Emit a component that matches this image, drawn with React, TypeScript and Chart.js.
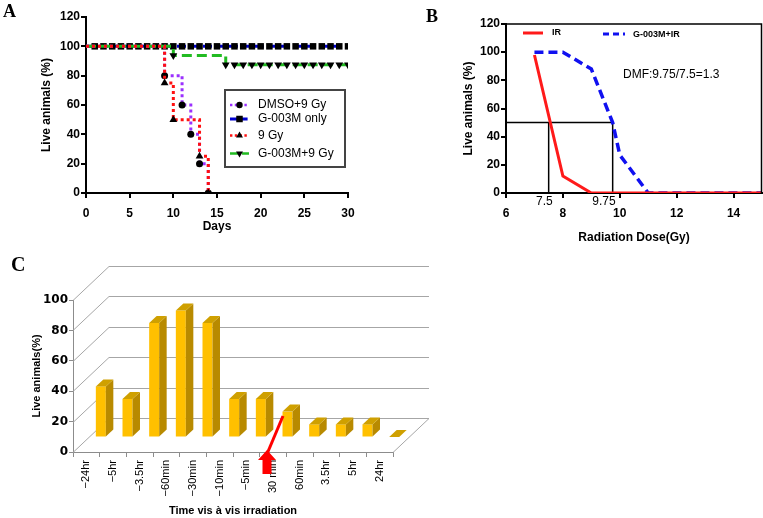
import React, { useEffect, useRef } from 'react';
import { Chart, registerables } from 'chart.js';

Chart.register(...registerables);

const SANS = '"Liberation Sans", Arial, Helvetica, sans-serif';
const SERIF = '"Liberation Serif", "Times New Roman", serif';

// ---------------- Panel A data ----------------
const daysTicks = [0, 5, 10, 15, 20, 25, 30];
const liveTicksA = [0, 20, 40, 60, 80, 100, 120];
const dmsoDays = [0, 9, 11, 12, 13, 14];
const dmsoLive = [100, 80, 60, 40, 20, 0];
const g003mOnlyDays = [0, 1, 2, 3, 4, 5, 6, 7, 8, 9, 10, 11, 12, 13, 14, 15, 16, 17, 18, 19, 20, 21, 22, 23, 24, 25, 26, 27, 28, 29, 30];
const g003mOnlyLive = [100, 100, 100, 100, 100, 100, 100, 100, 100, 100, 100, 100, 100, 100, 100, 100, 100, 100, 100, 100, 100, 100, 100, 100, 100, 100, 100, 100, 100, 100, 100];
const gy9Days = [0, 9, 10, 13, 14];
const gy9Live = [100, 75, 50, 25, 0];
const g003m9GyDays = [0, 10, 16, 17, 18, 19, 20, 21, 22, 23, 24, 25, 26, 27, 28, 29, 30];
const g003m9GyLive = [100, 93.75, 87.5, 87.5, 87.5, 87.5, 87.5, 87.5, 87.5, 87.5, 87.5, 87.5, 87.5, 87.5, 87.5, 87.5, 87.5];
const legendNamesA = ['DMSO+9 Gy', 'G-003M only', '9 Gy', 'G-003M+9 Gy'];

// ---------------- Panel B data ----------------
const doseTicks = [6, 8, 10, 12, 14];
const liveTicksB = [0, 20, 40, 60, 80, 100, 120];
const irDose = [7, 8, 9, 15];
const irLive = [98, 12, 0, 0];
const g003mIrDose = [7, 8, 9, 9.75, 10, 11, 15];
const g003mIrLive = [100, 100, 88, 50, 27, 0, 0];
const ld50Level = 50;
const ld50DoseIr = 7.5;
const ld50DoseG003m = 9.75;
const dmfText = 'DMF:9.75/7.5=1.3';
const legendNamesB = ['IR', 'G-003M+IR'];

// ---------------- Panel C data ----------------
const timeLabels = ['−24hr', '−5hr', '−3.5hr', '−60min', '−30min', '−10min', '−5min', '30 min', '60min', '3.5hr', '5hr', '24hr'];
const liveValuesC = [33.3, 25, 75, 83.3, 75, 25, 25, 16.7, 8.3, 8.3, 8.3, 0];
const liveTicksC = [0, 20, 40, 60, 80, 100];
const irradiationIndex = 7;

const pts = (xs: number[], ys: number[]) => xs.map((x, i) => ({ x, y: ys[i] }));

function drawMarker(ctx: CanvasRenderingContext2D, style: string, x: number, y: number, r: number, rot: number) {
  ctx.beginPath();
  if (style === 'circle') {
    ctx.arc(x, y, r, 0, Math.PI * 2);
  } else if (style === 'rect') {
    const s = r * Math.SQRT1_2;
    ctx.rect(x - s, y - s, 2 * s, 2 * s);
  } else {
    const d = rot === 180 ? -1 : 1;
    ctx.moveTo(x, y - d * r);
    ctx.lineTo(x - r * 0.866, y + d * r * 0.5);
    ctx.lineTo(x + r * 0.866, y + d * r * 0.5);
  }
  ctx.closePath();
  ctx.fill();
}

const fixTicks = (vals: number[]) => (scale: any) => {
  scale.ticks = vals.map((v) => ({ value: v }));
};

function makeChartA(canvas: HTMLCanvasElement) {
  const firstHidden = (r: number) => (c: any) => (c.dataIndex === 0 ? 0 : r);
  const base = {
    stepped: 'before' as const,
    borderWidth: 3,
    pointBackgroundColor: '#000',
    pointBorderColor: '#000',
    pointBorderWidth: 0,
    fill: false,
  };
  const dsDmso = { ...base, label: legendNamesA[0], data: pts(dmsoDays, dmsoLive), borderColor: '#9B30FF', borderDash: [3, 3], pointStyle: 'circle', pointRadius: firstHidden(3.5), rotation: 0 };
  const dsOnly = { ...base, label: legendNamesA[1], data: pts(g003mOnlyDays, g003mOnlyLive), borderColor: '#0000D0', borderDash: [9, 4], pointStyle: 'rect', pointRadius: firstHidden(4.6), rotation: 0 };
  const dsGy = { ...base, label: legendNamesA[2], data: pts(gy9Days, gy9Live), borderColor: '#FF1010', borderDash: [3, 3], pointStyle: 'triangle', pointRadius: firstHidden(4.5), rotation: 0 };
  const dsCombo = { ...base, label: legendNamesA[3], data: pts(g003m9GyDays, g003m9GyLive), borderColor: '#22BB22', borderDash: [10, 5], pointStyle: 'triangle', pointRadius: firstHidden(4.5), rotation: 180 };

  const legendPlugin = {
    id: 'legendA',
    afterDraw(chart: any) {
      const { ctx } = chart;
      ctx.save();
      ctx.strokeStyle = '#444';
      ctx.lineWidth = 2;
      ctx.strokeRect(225, 90, 120, 77);
      const ys = [105, 119, 135.5, 153.5];
      const order = [dsDmso, dsOnly, dsGy, dsCombo];
      order.forEach((ds: any, i: number) => {
        const y = ys[i];
        ctx.strokeStyle = ds.borderColor;
        ctx.lineWidth = ds === dsOnly ? 3 : 2.5;
        ctx.setLineDash(ds.borderDash.map((v: number) => v * 0.8));
        ctx.beginPath();
        ctx.moveTo(230, y);
        ctx.lineTo(249, y);
        ctx.stroke();
        ctx.setLineDash([]);
        ctx.fillStyle = '#000';
        drawMarker(ctx, ds.pointStyle, 239.5, y, ds.pointStyle === 'rect' ? 4.6 : ds.pointStyle === 'circle' ? 3.2 : 4, ds.rotation);
        ctx.fillStyle = '#000';
        ctx.font = `12px ${SANS}`;
        ctx.textBaseline = 'middle';
        ctx.textAlign = 'left';
        ctx.fillText(ds.label, 258, y);
      });
      ctx.restore();
    },
  };

  return new Chart(canvas, {
    type: 'line',
    data: { datasets: [dsGy, dsDmso, dsCombo, dsOnly] as any },
    options: {
      animation: false,
      responsive: false,
      layout: { padding: { left: 0, top: 17, right: 32, bottom: 0 } },
      plugins: { legend: { display: false }, tooltip: { enabled: false } },
      scales: {
        x: {
          type: 'linear',
          min: 0,
          max: 30,
          afterBuildTicks: fixTicks(daysTicks),
          afterFit: (s: any) => { s.height = 47; },
          ticks: { font: { family: SANS, size: 12, weight: 'bold' }, color: '#000', padding: 8 },
          grid: { drawOnChartArea: false, drawTicks: true, tickLength: 5, color: '#000', lineWidth: 2 },
          border: { display: true, color: '#000', width: 2 },
          title: { display: true, text: 'Days', font: { family: SANS, size: 12, weight: 'bold' }, color: '#000', padding: { top: 0, bottom: 6 } },
        },
        y: {
          type: 'linear',
          min: 0,
          max: 120,
          afterBuildTicks: fixTicks(liveTicksA),
          afterFit: (s: any) => { s.width = 86; },
          ticks: { font: { family: SANS, size: 12, weight: 'bold' }, color: '#000', padding: 1 },
          grid: { drawOnChartArea: false, drawTicks: true, tickLength: 5, color: '#000', lineWidth: 2 },
          border: { display: true, color: '#000', width: 2 },
          title: { display: true, text: 'Live animals (%)', font: { family: SANS, size: 12, weight: 'bold' }, color: '#000', padding: { top: 39, bottom: 0 } },
        },
      },
    } as any,
    plugins: [legendPlugin],
  });
}

function makeChartB(canvas: HTMLCanvasElement) {
  const line = { pointRadius: 0, tension: 0, fill: false };
  const dsIr = { ...line, label: legendNamesB[0], data: pts(irDose, irLive), borderColor: '#FF1A1A', borderWidth: 3 };
  const dsG = { ...line, label: legendNamesB[1], data: pts(g003mIrDose, g003mIrLive), borderColor: '#1010F0', borderWidth: 3.5, borderDash: [9, 5] };
  const ref = { ...line, borderColor: '#000', borderWidth: 1.5 };
  const dsH = { ...ref, label: 'LD50', data: [{ x: 6, y: ld50Level }, { x: ld50DoseG003m, y: ld50Level }] };
  const dsV1 = { ...ref, label: 'LD50 IR', data: [{ x: ld50DoseIr, y: 0 }, { x: ld50DoseIr, y: ld50Level }] };
  const dsV2 = { ...ref, label: 'LD50 G-003M+IR', data: [{ x: ld50DoseG003m, y: 0 }, { x: ld50DoseG003m, y: ld50Level }] };

  const extras = {
    id: 'extrasB',
    afterDraw(chart: any) {
      const { ctx, chartArea: ca, scales } = chart;
      ctx.save();
      ctx.strokeStyle = '#000';
      ctx.lineWidth = 1.5;
      ctx.beginPath();
      ctx.moveTo(ca.left, ca.top);
      ctx.lineTo(ca.right - 0.5, ca.top);
      ctx.lineTo(ca.right - 0.5, ca.bottom);
      ctx.stroke();
      // legend
      ctx.lineWidth = 3;
      ctx.strokeStyle = dsIr.borderColor;
      ctx.beginPath(); ctx.moveTo(103, 33); ctx.lineTo(123, 33); ctx.stroke();
      ctx.strokeStyle = dsG.borderColor;
      ctx.setLineDash([6, 4]);
      ctx.beginPath(); ctx.moveTo(183, 34); ctx.lineTo(205, 34); ctx.stroke();
      ctx.setLineDash([]);
      ctx.fillStyle = '#000';
      ctx.font = `bold 9px ${SANS}`;
      ctx.textBaseline = 'middle';
      ctx.textAlign = 'left';
      ctx.fillText(dsIr.label, 132, 33);
      ctx.fillText(dsG.label, 213, 35);
      // DMF
      ctx.font = `12px ${SANS}`;
      ctx.fillText(dmfText, 203, 75);
      // LD50 labels
      ctx.textAlign = 'right';
      ctx.font = `12px ${SANS}`;
      const ly = ca.bottom + 9;
      ctx.fillText(String(ld50DoseIr), scales.x.getPixelForValue(ld50DoseIr) + 4, ly);
      ctx.fillText(String(ld50DoseG003m), scales.x.getPixelForValue(ld50DoseG003m) + 3, ly);
      ctx.restore();
    },
  };

  return new Chart(canvas, {
    type: 'line',
    data: { datasets: [dsIr, dsG, dsH, dsV1, dsV2] as any },
    options: {
      animation: false,
      responsive: false,
      layout: { padding: { left: 0, top: 24, right: 1, bottom: 0 } },
      plugins: { legend: { display: false }, tooltip: { enabled: false } },
      scales: {
        x: {
          type: 'linear',
          min: 6,
          max: 15,
          afterBuildTicks: fixTicks(doseTicks),
          afterFit: (s: any) => { s.height = 57; },
          ticks: { font: { family: SANS, size: 12, weight: 'bold' }, color: '#000', padding: 8 },
          grid: { drawOnChartArea: false, drawTicks: true, tickLength: 5, color: '#000', lineWidth: 2 },
          border: { display: true, color: '#000', width: 2 },
          title: { display: true, text: 'Radiation Dose(Gy)', font: { family: SANS, size: 12, weight: 'bold' }, color: '#000', padding: { top: 0, bottom: 5 } },
        },
        y: {
          type: 'linear',
          min: 0,
          max: 120,
          afterBuildTicks: fixTicks(liveTicksB),
          afterFit: (s: any) => { s.width = 86; },
          ticks: { font: { family: SANS, size: 12, weight: 'bold' }, color: '#000', padding: 1 },
          grid: { drawOnChartArea: false, drawTicks: true, tickLength: 5, color: '#000', lineWidth: 2 },
          border: { display: true, color: '#000', width: 2 },
          title: { display: true, text: 'Live animals (%)', font: { family: SANS, size: 12, weight: 'bold' }, color: '#000', padding: { top: 41, bottom: 0 } },
        },
      },
    } as any,
    plugins: [extras],
  });
}

function makeChartC(canvas: HTMLCanvasElement) {
  const DX = 36, DY = -34; // chart depth
  const OX = 14.5, OY = -15; // bar row position in depth
  const BX = 7.5, BY = -7; // bar depth
  const GRID = '#A6A6A6';
  const SIDE = '#B88A00';
  const TOP = '#CFA000';

  const threeD = {
    id: 'threeD',
    beforeDatasetsDraw(chart: any) {
      const { ctx, chartArea: ca, scales } = chart;
      const y = scales.y;
      ctx.save();
      ctx.strokeStyle = GRID;
      ctx.lineWidth = 1;
      ctx.beginPath();
      liveTicksC.forEach((v) => {
        const py = Math.round(y.getPixelForValue(v)) + 0.5;
        ctx.moveTo(ca.left, py);
        ctx.lineTo(ca.left + DX, py + DY);
        ctx.lineTo(ca.right + DX, py + DY);
      });
      ctx.moveTo(ca.right, Math.round(ca.bottom) + 0.5);
      ctx.lineTo(ca.right + DX, Math.round(ca.bottom) + 0.5 + DY);
      ctx.stroke();
      ctx.restore();
      ctx.save();
      ctx.translate(OX, OY);
    },
    afterDatasetsDraw(chart: any) {
      const { ctx } = chart;
      const meta = chart.getDatasetMeta(0);
      meta.data.forEach((el: any) => {
        const { x, y, base, width } = el.getProps(['x', 'y', 'base', 'width'], true);
        const l = x - width / 2;
        const r = x + width / 2;
        ctx.fillStyle = SIDE;
        ctx.beginPath();
        ctx.moveTo(r, y);
        ctx.lineTo(r + BX, y + BY);
        ctx.lineTo(r + BX, base + BY);
        ctx.lineTo(r, base);
        ctx.closePath();
        ctx.fill();
        ctx.fillStyle = TOP;
        ctx.beginPath();
        ctx.moveTo(l, y);
        ctx.lineTo(l + BX, y + BY);
        ctx.lineTo(r + BX, y + BY);
        ctx.lineTo(r, y);
        ctx.closePath();
        ctx.fill();
      });
      ctx.restore();
    },
    afterDraw(chart: any) {
      const { ctx, chartArea: ca, scales } = chart;
      const ax = scales.x.getPixelForValue(irradiationIndex) - 6;
      const b = ca.bottom;
      ctx.save();
      ctx.strokeStyle = '#FF0000';
      ctx.fillStyle = '#FF0000';
      ctx.lineWidth = 3;
      ctx.beginPath();
      ctx.moveTo(ax, b + 2);
      ctx.lineTo(ax + 16, b - 36);
      ctx.stroke();
      ctx.beginPath();
      ctx.moveTo(ax, b - 2);
      ctx.lineTo(ax - 9, b + 8);
      ctx.lineTo(ax - 4.5, b + 8);
      ctx.lineTo(ax - 4.5, b + 22);
      ctx.lineTo(ax + 4.5, b + 22);
      ctx.lineTo(ax + 4.5, b + 8);
      ctx.lineTo(ax + 9, b + 8);
      ctx.closePath();
      ctx.fill();
      ctx.restore();
    },
  };

  return new Chart(canvas, {
    type: 'bar',
    data: {
      labels: timeLabels,
      datasets: [
        {
          label: 'Live animals(%)',
          data: liveValuesC,
          backgroundColor: '#FFC000',
          borderWidth: 0,
          barPercentage: 0.375,
          categoryPercentage: 1,
          clip: false,
        } as any,
      ],
    },
    options: {
      animation: false,
      responsive: false,
      layout: { padding: { left: 0, top: 50, right: 47, bottom: 0 } },
      plugins: { legend: { display: false }, tooltip: { enabled: false } },
      scales: {
        x: {
          afterFit: (s: any) => { s.height = 66; },
          ticks: { minRotation: 90, maxRotation: 90, autoSkip: false, font: { family: SANS, size: 11 }, color: '#000', padding: 3 },
          grid: { offset: true, drawOnChartArea: false, drawTicks: true, tickLength: 5, color: '#8C8C8C', lineWidth: 1 },
          border: { display: true, color: '#8C8C8C', width: 1 },
          title: { display: true, text: 'Time vis à vis irradiation', font: { family: SANS, size: 11, weight: 'bold' }, color: '#000', padding: { top: 0, bottom: 0 } },
        },
        y: {
          type: 'linear',
          min: 0,
          max: 100,
          afterBuildTicks: fixTicks(liveTicksC),
          afterFit: (s: any) => { s.width = 73; },
          ticks: { font: { family: '"DejaVu Sans", sans-serif', size: 12, weight: 'bold' }, color: '#000', padding: 1 },
          grid: { drawOnChartArea: false, drawTicks: true, tickLength: 4, color: '#8C8C8C', lineWidth: 1 },
          border: { display: true, color: '#8C8C8C', width: 1 },
          title: { display: true, text: 'Live animals(%)', font: { family: SANS, size: 11, weight: 'bold' }, color: '#000', padding: { top: 30, bottom: 0 } },
        },
      },
    } as any,
    plugins: [threeD],
  });
}

const letterStyle = (left: number, top: number, size: number): React.CSSProperties => ({
  position: 'absolute',
  left,
  top,
  fontFamily: SERIF,
  fontWeight: 'bold',
  fontSize: size,
  lineHeight: `${size}px`,
  color: '#000',
  margin: 0,
});

export default function App() {
  const aRef = useRef<HTMLCanvasElement>(null);
  const bRef = useRef<HTMLCanvasElement>(null);
  const cRef = useRef<HTMLCanvasElement>(null);

  useEffect(() => {
    Chart.defaults.font.family = SANS;
    Chart.defaults.color = '#000';
    const charts: Chart[] = [];
    if (aRef.current) charts.push(makeChartA(aRef.current));
    if (bRef.current) charts.push(makeChartB(bRef.current));
    if (cRef.current) charts.push(makeChartC(cRef.current));
    return () => charts.forEach((c) => c.destroy());
  }, []);

  return (
    <div style={{ position: 'fixed', left: 0, top: 0, width: 763, height: 518, background: '#fff', overflow: 'hidden' }}>
      <canvas ref={aRef} width={380} height={240} style={{ position: 'absolute', left: 0, top: 0 }} />
      <canvas ref={bRef} width={343} height={250} style={{ position: 'absolute', left: 420, top: 0 }} />
      <canvas ref={cRef} width={440} height={268} style={{ position: 'absolute', left: 0, top: 250 }} />
      <div style={letterStyle(3, 2, 18)}>A</div>
      <div style={letterStyle(426, 7, 18)}>B</div>
      <div style={letterStyle(11, 254, 20)}>C</div>
    </div>
  );
}
